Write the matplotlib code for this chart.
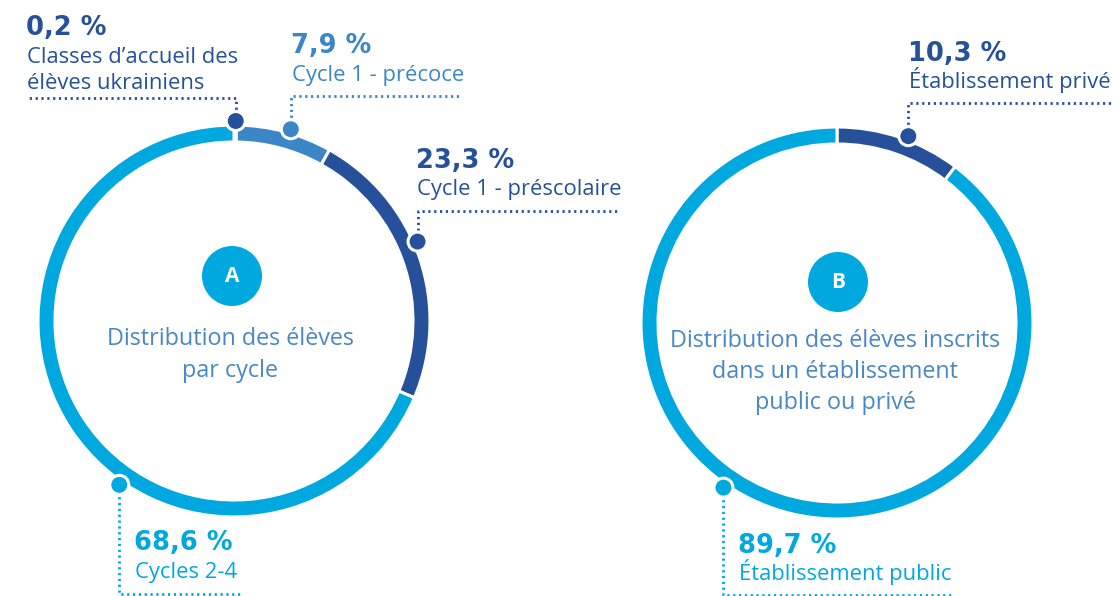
import numpy as np
import matplotlib
matplotlib.use("Agg")
import matplotlib.pyplot as plt
from matplotlib.patches import Circle

# ---- data ----
cycle_labels = ["Classes d\u2019accueil des\n\u00e9l\u00e8ves ukrainiens", "Cycle 1 - pr\u00e9coce",
                "Cycle 1 - pr\u00e9scolaire", "Cycles 2-4"]
cycle_values = [0.2, 7.9, 23.3, 68.6]
sector_labels = ["\u00c9tablissement priv\u00e9", "\u00c9tablissement public"]
sector_values = [10.3, 89.7]
title_a = "Distribution des \u00e9l\u00e8ves\npar cycle"
title_b = "Distribution des \u00e9l\u00e8ves inscrits\ndans un \u00e9tablissement\npublic ou priv\u00e9"

NAVY = "#27509b"
MID = "#3b86c6"
CYAN = "#00a8e0"
TXT = "#4a87c6"

W, H = 1113, 596
plt.rcParams['font.family'] = ['Open Sans', 'DejaVu Sans']

fig = plt.figure(figsize=(W / 100, H / 100), dpi=100)
ax = fig.add_axes([0, 0, 1, 1])


def Y(y):
    return H - y


def fmt(v):
    return f"{v:.1f}".replace(".", ",") + " %"


R = 196
TH = 17

# ring A
ca = (234, Y(321))
ax.pie(cycle_values, colors=[NAVY, MID, NAVY, CYAN], startangle=90, counterclock=False,
       radius=R, center=ca, wedgeprops=dict(width=TH, edgecolor="white", linewidth=2.2))
# ring B
cb = (837, Y(323))
ax.pie(sector_values, colors=[NAVY, CYAN], startangle=90, counterclock=False,
       radius=R, center=cb, wedgeprops=dict(width=TH, edgecolor="white", linewidth=2.2))

ax.set_xlim(0, W)
ax.set_ylim(0, H)
ax.set_aspect("equal")
ax.axis("off")

dot_r = 200
NUM_FS = 18.5
LAB_FS = 15.8
TITLE_FS = 16.8


def dot(center, ang, color):
    t = np.deg2rad(ang)
    x = center[0] + dot_r * np.sin(t)
    y = center[1] + dot_r * np.cos(t)
    ax.add_patch(Circle((x, y), 9.5, facecolor=color, edgecolor="white", linewidth=2.2, zorder=5))
    return x, y


def leader(pts, color):
    xs, ys = zip(*pts)
    ax.plot(xs, ys, color=color, linewidth=2, linestyle=(0, (0.8, 1.3)), zorder=4,
            solid_capstyle="butt", dash_capstyle="butt")


def label(x, yb_num, yb_txt, value, text, color, txtcolor):
    ax.text(x - 1, Y(yb_num), fmt(value), color=color, fontsize=NUM_FS, fontweight="bold",
            family="DejaVu Sans", ha="left", va="baseline")
    lines = text.split("\n")
    for i, ln in enumerate(lines):
        ax.text(x, Y(yb_txt + 26 * i), ln, color=txtcolor, fontsize=LAB_FS, ha="left",
                va="baseline")


# annotations ring A
x, y = dot(ca, 0.5, NAVY)
leader([(x, y), (x, Y(98)), (27, Y(98))], NAVY)
label(27, 35, 63, cycle_values[0], cycle_labels[0], NAVY, NAVY)

x, y = dot(ca, 16.5, MID)
leader([(x, y), (x, Y(96)), (460, Y(96))], MID)
label(292, 53, 81, cycle_values[1], cycle_labels[1], MID, MID)

x, y = dot(ca, 66.6, NAVY)
leader([(x, y), (x, Y(211)), (620, Y(211))], NAVY)
label(417, 168, 195, cycle_values[2], cycle_labels[2], NAVY, NAVY)

x, y = dot(ca, 215, CYAN)
leader([(x, y), (x, Y(594)), (242, Y(594))], CYAN)
label(135, 550, 578, cycle_values[3], cycle_labels[3], CYAN, CYAN)

# annotations ring B
x, y = dot(cb, 20.9, NAVY)
leader([(x, y), (x, Y(103)), (1113, Y(103))], NAVY)
label(909, 61, 88, sector_values[0], sector_labels[0], NAVY, NAVY)

x, y = dot(cb, 214.6, CYAN)
leader([(x, y), (x, Y(595)), (953, Y(595))], CYAN)
label(739, 553, 580, sector_values[1], sector_labels[1], CYAN, CYAN)

# badges
for (bx, by), letter in [((232, Y(276)), "A"), ((838, Y(282)), "B")]:
    ax.add_patch(Circle((bx, by), 30, facecolor=CYAN, edgecolor="none", zorder=3))
    ax.text(bx, by, letter, color="white", fontsize=15, fontweight="bold",
            ha="center", va="center", zorder=4)

for i, ln in enumerate(title_a.split("\n")):
    ax.text(230, Y(345 + 32 * i), ln, color=TXT, fontsize=TITLE_FS, ha="center", va="baseline")
for i, ln in enumerate(title_b.split("\n")):
    ax.text(835, Y(347 + 31 * i), ln, color=TXT, fontsize=TITLE_FS, ha="center", va="baseline")

fig.savefig("out.png", dpi=100)
